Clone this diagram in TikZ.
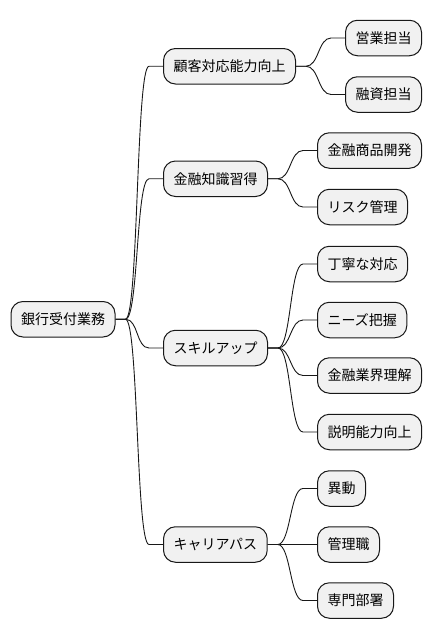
\documentclass[tikz,border=0pt]{standalone}
\usepackage{fontspec}
\setmainfont{Noto Sans CJK JP}
\usetikzlibrary{calc}
\definecolor{boxfill}{HTML}{F1F1F1}
\definecolor{linec}{HTML}{181818}
\tikzset{
  mm/.style={draw=linec, fill=boxfill, line width=1pt, rounded corners=12pt,
    minimum height=35.5pt, inner xsep=10pt, inner ysep=0pt, anchor=west,
    font=\fontsize{14}{16}\selectfont, text=black},
  mmline/.style={draw=linec, line width=0.9pt},
}
\newcommand\mmedge[2]{\draw[mmline] (#1.east) -- ++(10,0) .. controls +(13,0) and ($(#2.west)+(-27,0)$) .. ($(#2.west)+(-14,0)$) -- (#2.west);}
\begin{document}
\begin{tikzpicture}[x=1pt,y=-1pt]
\useasboundingbox (0,0) rectangle (432,640);
\node[mm] (root) at (10.5,319.25) {銀行受付業務};
\node[mm] (la) at (163,66.25) {顧客対応能力向上};
\node[mm] (lb) at (163,178.75) {金融知識習得};
\node[mm] (lc) at (163,348) {スキルアップ};
\node[mm] (ld) at (163,544.5) {キャリアパス};
\node[mm] (a1) at (345,38) {営業担当};
\node[mm] (a2) at (345,94.5) {融資担当};
\node[mm] (b1) at (317,150.5) {金融商品開発};
\node[mm] (b2) at (317,207) {リスク管理};
\node[mm] (c1) at (317,264) {丁寧な対応};
\node[mm] (c2) at (317,320) {ニーズ把握};
\node[mm] (c3) at (317,375.5) {金融業界理解};
\node[mm] (c4) at (317,432) {説明能力向上};
\node[mm] (d1) at (317,488.5) {異動};
\node[mm] (d2) at (317,544.5) {管理職};
\node[mm] (d3) at (317,600.5) {専門部署};
\mmedge{root}{la}
\mmedge{root}{lb}
\mmedge{root}{lc}
\mmedge{root}{ld}
\mmedge{la}{a1}
\mmedge{la}{a2}
\mmedge{lb}{b1}
\mmedge{lb}{b2}
\mmedge{lc}{c1}
\mmedge{lc}{c2}
\mmedge{lc}{c3}
\mmedge{lc}{c4}
\mmedge{ld}{d1}
\mmedge{ld}{d2}
\mmedge{ld}{d3}
\end{tikzpicture}
\end{document}
